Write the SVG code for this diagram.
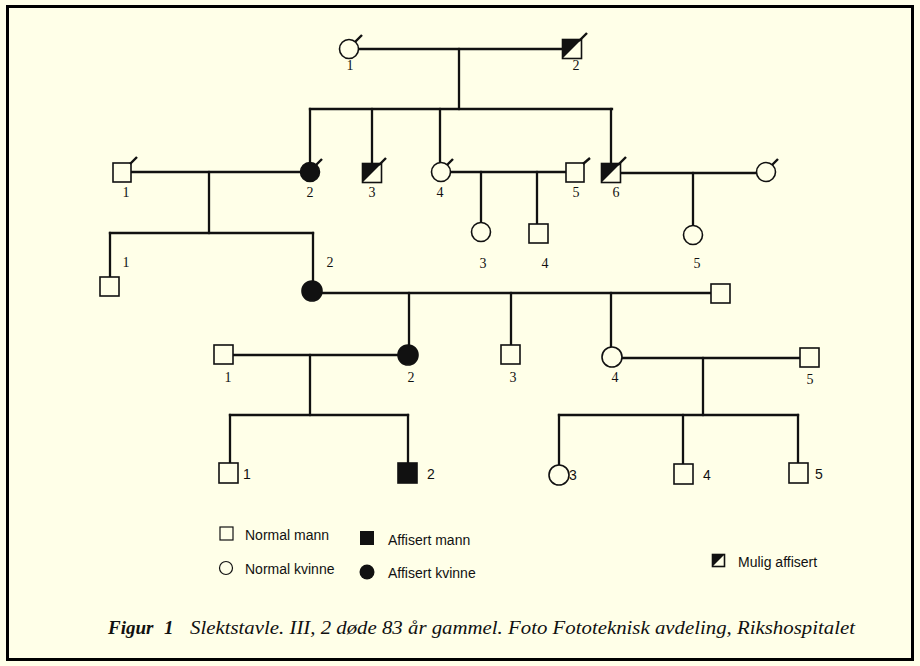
<svg xmlns="http://www.w3.org/2000/svg" xmlns:xlink="http://www.w3.org/1999/xlink" width="920" height="666" viewBox="0 0 920 666">
  <style>
    .ln { stroke: #111; stroke-width: 2.3; fill: none; stroke-linecap: square; }
    .sym { stroke: #111; stroke-width: 1.6; fill: #FFFFE8; }
    .aff { stroke: #111; stroke-width: 1.6; fill: #111; }
    .dead { stroke: #111; stroke-width: 2.4; stroke-linecap: butt; }
    .num { font-family: "Liberation Serif", "DejaVu Serif", serif; font-size: 14px; fill: #111; text-anchor: middle; }
    .numl { font-family: "Liberation Sans", "DejaVu Sans", sans-serif; font-size: 14px; fill: #111; }
    .leg { font-family: "Liberation Sans", "Arial", sans-serif; font-size: 14px; fill: #111; }
    .cap { font-family: "Liberation Serif", "Times New Roman", serif; font-style: italic; fill: #111; }
  </style>
  <defs>
    <!-- possibly affected male: square with black upper-left half -->
    <g id="half">
      <rect class="sym" x="-9.5" y="-9.5" width="19" height="19"/>
      <path d="M-9.5,-9.5 H9.5 L-9.5,9.5 Z" fill="#111"/>
    </g>
  </defs>

  <!-- page and frame -->
  <rect x="0" y="0" width="920" height="666" fill="#FFFFE8"/>
  <rect x="7.5" y="6.5" width="905" height="653" fill="none" stroke="#000" stroke-width="3"/>

  <!-- connectors -->
  <g id="connectors">
    <!-- generation I -->
    <line class="ln" x1="359" y1="49" x2="563" y2="49"/>
    <line class="ln" x1="459" y1="49" x2="459" y2="109"/>
    <line class="ln" x1="310" y1="109" x2="612" y2="109"/>
    <line class="ln" x1="310" y1="109" x2="310" y2="162"/>
    <line class="ln" x1="372" y1="109" x2="372" y2="163"/>
    <line class="ln" x1="440" y1="109" x2="440" y2="162"/>
    <line class="ln" x1="611" y1="109" x2="611" y2="163"/>
    <!-- generation II -->
    <line class="ln" x1="131" y1="172" x2="300" y2="172"/>
    <line class="ln" x1="209" y1="172" x2="209" y2="233"/>
    <line class="ln" x1="110" y1="233" x2="313" y2="233"/>
    <line class="ln" x1="110" y1="233" x2="110" y2="277"/>
    <line class="ln" x1="313" y1="233" x2="313" y2="281"/>
    <line class="ln" x1="451" y1="172" x2="566" y2="172"/>
    <line class="ln" x1="481" y1="172" x2="481" y2="222"/>
    <line class="ln" x1="537" y1="172" x2="537" y2="224"/>
    <line class="ln" x1="621" y1="173" x2="756" y2="173"/>
    <line class="ln" x1="693" y1="173" x2="693" y2="225"/>
    <!-- generation III -->
    <line class="ln" x1="322" y1="293" x2="711" y2="293"/>
    <line class="ln" x1="409" y1="293" x2="409" y2="345"/>
    <line class="ln" x1="511" y1="293" x2="511" y2="345"/>
    <line class="ln" x1="611" y1="293" x2="611" y2="347"/>
    <!-- generation IV -->
    <line class="ln" x1="233" y1="355" x2="398" y2="355"/>
    <line class="ln" x1="310" y1="355" x2="310" y2="415"/>
    <line class="ln" x1="230" y1="415" x2="408" y2="415"/>
    <line class="ln" x1="230" y1="415" x2="230" y2="463"/>
    <line class="ln" x1="408" y1="415" x2="408" y2="463"/>
    <line class="ln" x1="622" y1="358" x2="800" y2="358"/>
    <line class="ln" x1="703" y1="358" x2="703" y2="415"/>
    <line class="ln" x1="559" y1="415" x2="798" y2="415"/>
    <line class="ln" x1="559" y1="415" x2="559" y2="465"/>
    <line class="ln" x1="683" y1="415" x2="683" y2="464"/>
    <line class="ln" x1="798" y1="415" x2="798" y2="463"/>
  </g>

  <!-- generation I -->
  <g id="I-1">
    <circle class="sym" cx="349" cy="49" r="9.5"/>
    <line class="dead" x1="355" y1="42" x2="362" y2="35"/>
    <text class="num" x="350" y="70">1</text>
  </g>
  <g id="I-2">
    <use xlink:href="#half" href="#half" x="572" y="49"/>
    <line class="dead" x1="579" y1="41" x2="587" y2="33"/>
    <text class="num" x="576" y="70">2</text>
  </g>

  <!-- generation II -->
  <g id="II-1">
    <rect class="sym" x="113" y="163" width="18" height="19"/>
    <line class="dead" x1="130" y1="164" x2="137" y2="157"/>
    <text class="num" x="126" y="197">1</text>
  </g>
  <g id="II-2">
    <circle class="aff" cx="310" cy="172" r="9.5"/>
    <line class="dead" x1="316" y1="165" x2="322" y2="159"/>
    <text class="num" x="310" y="197">2</text>
  </g>
  <g id="II-3">
    <use xlink:href="#half" href="#half" x="372" y="173"/>
    <line class="dead" x1="379" y1="165" x2="386" y2="158"/>
    <text class="num" x="372" y="197">3</text>
  </g>
  <g id="II-4">
    <circle class="sym" cx="441" cy="172" r="9.5"/>
    <line class="dead" x1="447" y1="165" x2="453" y2="159"/>
    <text class="num" x="440" y="197">4</text>
  </g>
  <g id="II-5">
    <rect class="sym" x="566" y="163" width="18" height="19"/>
    <line class="dead" x1="583" y1="164" x2="590" y2="158"/>
    <text class="num" x="576" y="197">5</text>
  </g>
  <g id="II-6">
    <use xlink:href="#half" href="#half" x="611" y="173"/>
    <line class="dead" x1="618" y1="165" x2="626" y2="157"/>
    <text class="num" x="616" y="197">6</text>
  </g>
  <g id="II-6-spouse">
    <circle class="sym" cx="766" cy="172" r="9.5"/>
    <line class="dead" x1="772" y1="165" x2="778" y2="159"/>
  </g>

  <!-- generation III -->
  <g id="III-1">
    <rect class="sym" x="100" y="277" width="19" height="19"/>
    <text class="num" x="126" y="267">1</text>
  </g>
  <g id="III-2">
    <circle class="aff" cx="312" cy="291" r="10"/>
    <text class="num" x="330" y="267">2</text>
  </g>
  <g id="III-3">
    <circle class="sym" cx="481" cy="232" r="9.5"/>
    <text class="num" x="483" y="268">3</text>
  </g>
  <g id="III-4">
    <rect class="sym" x="529" y="224" width="19" height="19"/>
    <text class="num" x="545" y="268">4</text>
  </g>
  <g id="III-5">
    <circle class="sym" cx="693" cy="235" r="9.5"/>
    <text class="num" x="697" y="268">5</text>
  </g>
  <g id="III-2-spouse">
    <rect class="sym" x="711" y="284" width="19" height="19"/>
  </g>

  <!-- generation IV -->
  <g id="IV-1">
    <rect class="sym" x="214" y="345" width="19" height="19"/>
    <text class="num" x="228" y="382">1</text>
  </g>
  <g id="IV-2">
    <circle class="aff" cx="408" cy="355" r="10"/>
    <text class="num" x="411" y="382">2</text>
  </g>
  <g id="IV-3">
    <rect class="sym" x="501" y="345" width="19" height="19"/>
    <text class="num" x="513" y="382">3</text>
  </g>
  <g id="IV-4">
    <circle class="sym" cx="612" cy="357" r="10"/>
    <text class="num" x="615" y="382">4</text>
  </g>
  <g id="IV-5">
    <rect class="sym" x="800" y="348" width="19" height="19"/>
    <text class="num" x="810" y="384">5</text>
  </g>

  <!-- generation V -->
  <g id="V-1">
    <rect class="sym" x="219" y="463" width="19" height="20"/>
    <text class="numl" x="243" y="479">1</text>
  </g>
  <g id="V-2">
    <rect class="aff" x="398" y="463" width="19" height="20"/>
    <text class="numl" x="427" y="479">2</text>
  </g>
  <g id="V-3">
    <circle class="sym" cx="559" cy="475" r="10"/>
    <text class="numl" x="569" y="480">3</text>
  </g>
  <g id="V-4">
    <rect class="sym" x="674" y="464" width="19" height="20"/>
    <text class="numl" x="703" y="480">4</text>
  </g>
  <g id="V-5">
    <rect class="sym" x="789" y="463" width="19" height="20"/>
    <text class="numl" x="815" y="479">5</text>
  </g>

  <!-- legend -->
  <g id="legend">
    <rect x="220" y="527" width="13" height="13" fill="none" stroke="#111" stroke-width="1.2"/>
    <text class="leg" x="245" y="540">Normal mann</text>
    <circle cx="226" cy="568" r="6.5" fill="none" stroke="#111" stroke-width="1.2"/>
    <text class="leg" x="245" y="574">Normal kvinne</text>
    <rect x="360" y="531" width="14" height="14" fill="#111"/>
    <text class="leg" x="388" y="545">Affisert mann</text>
    <circle cx="367" cy="572" r="7.5" fill="#111"/>
    <text class="leg" x="388" y="578">Affisert kvinne</text>
    <rect x="712.5" y="554.5" width="12" height="12" fill="none" stroke="#111" stroke-width="1.6"/>
    <path d="M712,554 H725 L712,567 Z" fill="#111"/>
    <text class="leg" x="738" y="567">Mulig affisert</text>
  </g>

  <!-- caption -->
  <g id="caption">
    <text class="cap" x="108" y="634" font-size="19" font-weight="bold">Figur</text>
    <text class="cap" x="164" y="634" font-size="19" font-weight="bold">1</text>
    <text class="cap" x="190" y="634" font-size="19" textLength="665" lengthAdjust="spacingAndGlyphs">Slektstavle. III, 2 døde 83 år gammel. Foto Fototeknisk avdeling, Rikshospitalet</text>
  </g>
</svg>
